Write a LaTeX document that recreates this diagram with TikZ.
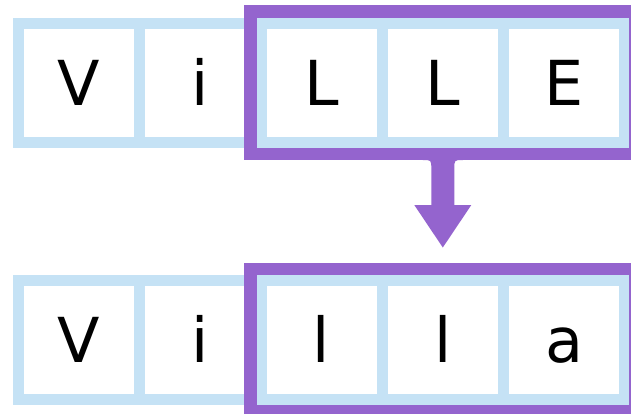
\documentclass[tikz,border=0pt]{standalone}
\usepackage{fontspec}
\setmainfont{DejaVu Sans}
\usetikzlibrary{calc}
\definecolor{cellblue}{RGB}{197,226,245}
\definecolor{markpurple}{RGB}{148,100,206}
\begin{document}
\begin{tikzpicture}[x=1pt,y=1pt,
  cell/.style={draw=cellblue, line width=11pt, rectangle,
    minimum width=121.2pt, minimum height=119pt, inner sep=0pt, outer sep=0pt,
    font=\fontsize{62}{62}\selectfont, text height=45pt, text depth=0pt},
  frame/.style={draw=markpurple, line width=12.5pt, rectangle,
    minimum width=384.5pt, minimum height=142.5pt, inner sep=0pt}
]
\fill[white] (0,0) rectangle (631,-413);
\useasboundingbox (0,0) rectangle (631,-413);

% letter rows
\foreach \ch [count=\k from 0] in {V,i,L,L,E}
  \node[cell] (t\k) at (79.2+121.2*\k,-82.5) {\ch};
\foreach \ch [count=\k from 0] in {V,i,l,l,a}
  \node[cell] (b\k) at (79.2+121.2*\k,-340) {\ch};

% highlight frames around the last three letters
\node[frame] (hiTop) at ($(t2.west)!0.5!(t4.east)$) {};
\node[frame] (hiBot) at ($(b2.west)!0.5!(b4.east)$) {};

% arrow from the upper frame to the lower one
\coordinate (s) at (hiTop.south);
\coordinate (tip) at ($(hiBot.north)+(0,15)$);
\fill[markpurple]
  ($(s)+(-20,1)$) -- ($(s)+(-20,0)$)
  .. controls ($(s)+(-11.5,0)$) .. ($(s)+(-11.5,-9)$)
  -- ($(s)+(-11.5,-45)$) -- ($(s)+(-28.5,-45)$) -- (tip)
  -- ($(s)+(28.5,-45)$) -- ($(s)+(11.5,-45)$) -- ($(s)+(11.5,-9)$)
  .. controls ($(s)+(11.5,0)$) .. ($(s)+(20,0)$) -- ($(s)+(20,1)$) -- cycle;
\end{tikzpicture}
\end{document}
